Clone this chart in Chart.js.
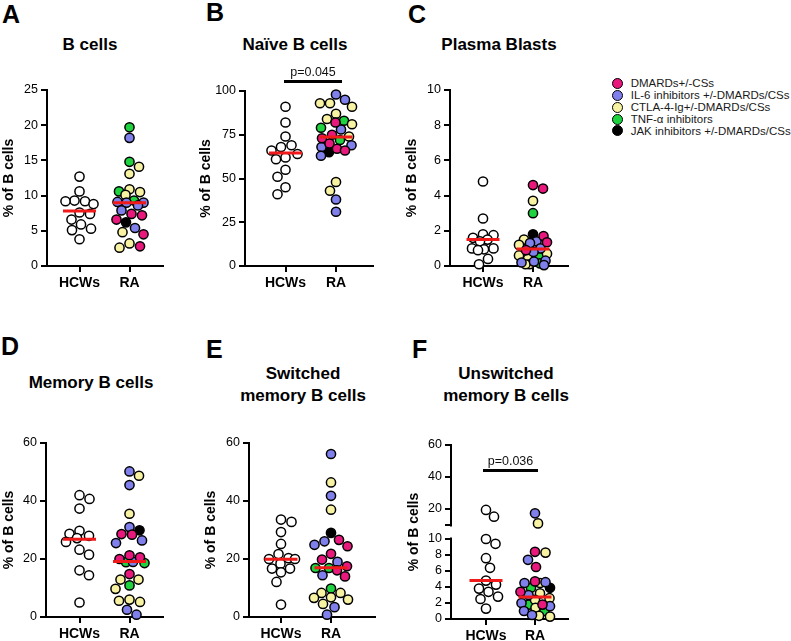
<!DOCTYPE html>
<html><head><meta charset="utf-8">
<script src="https://cdn.jsdelivr.net/npm/chart.js@4.4.1/dist/chart.umd.min.js"></script>
<style>
html,body{margin:0;padding:0;background:#fff;}
#page{position:relative;width:791px;height:641px;overflow:hidden;font-family:'Liberation Sans',Arial,sans-serif;color:#000;}
canvas{position:absolute;}
.letter{position:absolute;font-weight:bold;font-size:25px;line-height:25px;}
.ptitle{position:absolute;width:220px;text-align:center;font-weight:bold;font-size:17px;line-height:21.5px;white-space:nowrap;}
.leg{position:absolute;left:611px;height:12px;font-size:11.5px;line-height:12px;white-space:nowrap;color:#1a1a1a;}
.leg i{position:absolute;left:1px;top:0.5px;width:11px;height:11px;box-sizing:border-box;border:1.5px solid #000;border-radius:50%;}
.leg span{position:absolute;left:19.7px;top:0;}
</style></head>
<body>
<div id="page">
  <div class="letter" style="left:2px;top:2px">A</div>
  <div class="letter" style="left:206px;top:0px">B</div>
  <div class="letter" style="left:408px;top:2px">C</div>
  <div class="letter" style="left:1px;top:334px">D</div>
  <div class="letter" style="left:206px;top:337px">E</div>
  <div class="letter" style="left:412px;top:337px">F</div>
  <div class="ptitle" style="left:-20px;top:34px">B cells</div>
  <div class="ptitle" style="left:185px;top:34px">Naïve B cells</div>
  <div class="ptitle" style="left:389px;top:34px">Plasma Blasts</div>
  <div class="ptitle" style="left:-19px;top:372px">Memory B cells</div>
  <div class="ptitle" style="left:193px;top:363px">Switched<br>memory B cells</div>
  <div class="ptitle" style="left:396px;top:363px">Unswitched<br>memory B cells</div>
  <div id="legend"></div>
</div>
<script>
// ---------------- data ----------------
const CATEGORIES = ['HCWs', 'RA'];
const GROUPS = ['DMARDs+/-CSs', 'IL-6 inhibitors +/-DMARDs/CSs', 'CTLA-4-Ig+/-DMARDs/CSs', 'TNF-\u03b1 inhibitors', 'JAK inhibitors +/-DMARDs/CSs'];
const GROUP_COLORS = ['#E8187C', '#8080EC', '#F8F3A2', '#1FD23F', '#000000'];
const Y_TITLE = '% of B cells';

// treatment codes: 0 DMARDs, 1 IL-6, 2 CTLA-4-Ig, 3 TNF, 4 JAK
const A_HCW = [12.7, 10.6, 9.3, 9.2, 9.2, 8.8, 7.6, 7.4, 6.6, 5.9, 5.3, 5.1, 3.8];
const A_RA  = [19.7, 18.2, 14.8, 14.1, 13.1, 10.9, 10.6, 10.5, 10.1, 9.3, 9.1, 9.0, 9.0, 8.6, 7.9, 7.4, 7.2, 6.6, 6.2, 5.4, 4.8, 4.5, 3.2, 2.8, 2.6];
const A_TX  = [3, 1, 3, 2, 2, 2, 3, 2, 2, 3, 1, 1, 1, 1, 1, 0, 0, 0, 4, 1, 2, 0, 2, 0, 2];
const A_MED = [7.8, 9.0];
const A_YTICKS = [0, 5, 10, 15, 20, 25];

const B_HCW = [91, 82, 74, 69, 68, 66, 64, 62, 61, 55, 51, 45, 41];
const B_RA  = [98, 95, 93, 93, 91, 87, 84, 83, 82, 81, 79, 78, 75, 74, 73, 72, 70, 69, 68, 67, 66, 65, 63, 48, 43, 38, 31];
const B_TX  = [1, 1, 2, 2, 2, 2, 2, 3, 0, 2, 3, 1, 0, 2, 0, 3, 0, 1, 1, 0, 0, 4, 1, 2, 2, 1, 1];
const B_MED = [64.6, 73.7];
const B_YTICKS = [0, 25, 50, 75, 100];

const C_HCW = [4.8, 2.7, 1.8, 1.75, 1.6, 1.5, 1.4, 1.0, 1.0, 0.95, 0.9, 0.4, 0.1];
const C_RA  = [4.6, 4.4, 3.7, 3.0, 1.8, 1.7, 1.5, 1.4, 1.35, 1.3, 1.2, 1.0, 0.9, 0.8, 0.7, 0.6, 0.5, 0.4, 0.3, 0.25, 0.2, 0.15, 0.1, 0.1, 0.05];
const C_TX  = [0, 0, 2, 3, 4, 0, 2, 1, 0, 1, 2, 1, 0, 1, 2, 2, 3, 2, 1, 1, 1, 3, 2, 2, 1];
const C_MED = [1.5, 0.97];
const C_YTICKS = [0, 2, 4, 6, 8, 10];

const D_HCW = [42, 40.7, 37.4, 29.7, 28.7, 28, 27.2, 25.9, 23.2, 21.5, 16.1, 14.4, 5];
const D_RA  = [50.2, 48.7, 45.5, 35.6, 31, 29.9, 28.6, 28.4, 26.4, 25.5, 21.3, 20.6, 20, 19, 18.9, 18.6, 14.8, 12.9, 12.9, 10.9, 9.7, 6, 5.6, 5.2, 2.5, 0.8];
const D_TX  = [1, 2, 1, 2, 1, 4, 0, 0, 1, 1, 0, 0, 0, 1, 3, 3, 0, 2, 2, 3, 2, 2, 2, 2, 1, 1];
const D_MED = [26.8, 19.1];
const D_YTICKS = [0, 20, 40, 60];

const E_HCW = [33.6, 32.8, 29.3, 25.2, 21.7, 20.3, 20, 20, 18.4, 16.7, 16.7, 15.4, 12.1, 4.3];
const E_RA  = [56.2, 46.4, 41.8, 37, 29, 26.6, 26.1, 24.9, 24.4, 21.8, 19.8, 19, 17.5, 16.9, 16.9, 16.1, 14.4, 14, 9.8, 8.3, 8.3, 6.8, 6.6, 6, 4.5, 3.4, 0.8];
const E_TX  = [1, 2, 1, 2, 4, 0, 1, 1, 0, 0, 0, 1, 0, 3, 3, 0, 1, 0, 3, 2, 2, 2, 2, 2, 2, 1, 1];
const E_MED = [19.9, 17.0];
const E_YTICKS = [0, 20, 40, 60];

const F_HCW = [19.4, 15.2, 10, 9.4, 7.6, 6.4, 4.8, 4.3, 3.8, 3.4, 2.8, 2.5, 1.3];
const F_RA  = [17.3, 11, 8.4, 8.3, 7.4, 6.5, 4.7, 4.6, 4.5, 4.5, 3.9, 3.9, 3.4, 3.2, 3.0, 2.6, 2.4, 2.0, 1.8, 1.8, 1.6, 1.4, 1.0, 1.0, 0.5, 0.4, 0.3];
const F_TX  = [1, 2, 0, 2, 1, 0, 0, 1, 1, 2, 4, 3, 0, 2, 1, 2, 2, 1, 0, 3, 1, 2, 1, 3, 1, 2, 2];
const F_MED = [4.8, 2.75];
const F_YTICKS = [0, 2, 4, 6, 8, 10, 20, 40, 60];
const F_BREAK = 10;

const P_VALUES = {B: 'p=0.045', F: 'p=0.036'};

// ---------------- setup ----------------
Chart.defaults.font.family = "'Liberation Sans', Arial, sans-serif";
Chart.defaults.color = '#000';

// broken (two-segment) linear axis for panel F
class BrokenLinearScale extends Chart.LinearScale {
  _seg() {
    const H = this.bottom - this.top;
    return {H, low: H * 80 / 174, gap: H * 14 / 174};
  }
  breakPixels() {
    const {low, gap} = this._seg();
    return {lower: this.bottom - low, upper: this.bottom - low - gap};
  }
  getPixelForValue(v) {
    if (v === null || v === undefined || isNaN(v)) return NaN;
    const {H, low, gap} = this._seg();
    if (v <= F_BREAK) return this.bottom - (v - this.min) / (F_BREAK - this.min) * low;
    return this.bottom - low - gap - (v - F_BREAK) / (this.max - F_BREAK) * (H - low - gap);
  }
  getValueForPixel(p) {
    const {H, low, gap} = this._seg();
    const d = this.bottom - p;
    if (d <= low) return this.min + d / low * (F_BREAK - this.min);
    return F_BREAK + (d - low - gap) / (H - low - gap) * (this.max - F_BREAK);
  }
}
BrokenLinearScale.id = 'brokenLinear';
BrokenLinearScale.defaults = Chart.LinearScale.defaults;
Chart.register(BrokenLinearScale);

const pvalPlugin = {
  id: 'pval',
  afterDatasetsDraw(chart, args, o) {
    if (!o || !o.text) return;
    const xs = chart.scales.x, ys = chart.scales.y, ctx = chart.ctx;
    const x1 = xs.getPixelForValue(1) + o.dx1, x2 = xs.getPixelForValue(2) + o.dx2;
    const y = ys.getPixelForValue(o.y);
    ctx.save();
    ctx.strokeStyle = '#000'; ctx.lineWidth = 3;
    ctx.beginPath(); ctx.moveTo(x1, y); ctx.lineTo(x2, y); ctx.stroke();
    ctx.font = "12.5px 'Liberation Sans', Arial, sans-serif";
    ctx.fillStyle = '#111'; ctx.textAlign = 'center'; ctx.textBaseline = 'middle';
    ctx.fillText(o.text, (x1 + x2) / 2, y - o.gap);
    ctx.restore();
  }
};
const breakPlugin = {
  id: 'axisBreak',
  beforeDatasetsDraw(chart) {
    const ys = chart.scales.y;
    if (!ys.breakPixels) return;
    const {upper, lower} = ys.breakPixels();
    const ctx = chart.ctx, x = chart.chartArea.left;
    ctx.save();
    ctx.fillStyle = '#fff';
    ctx.fillRect(x - 3, upper + 1.5, 6, lower - upper - 3);
    ctx.strokeStyle = '#000'; ctx.lineWidth = 2;
    ctx.beginPath(); ctx.moveTo(x - 6, upper); ctx.lineTo(x + 1, upper); ctx.stroke();
    ctx.restore();
  }
};

const PANELS = [
  {hcw: A_HCW, ra: A_RA, tx: A_TX, med: A_MED, yTicks: A_YTICKS, box: {cl: 1, L: 47, T: 90, R: 163, B: 266, hcX: 79.5, raX: 129.5}, spread: [14, 14]},
  {hcw: B_HCW, ra: B_RA, tx: B_TX, med: B_MED, yTicks: B_YTICKS, box: {cl: 198, L: 245, T: 91, R: 373, B: 266, hcX: 285.5, raX: 336}, padTop: 31, spread: [14, 16],
   pval: {text: P_VALUES.B, y: 105.5, dx1: -1.5, dx2: 6, gap: 9}},
  {hcw: C_HCW, ra: C_RA, tx: C_TX, med: C_MED, yTicks: C_YTICKS, box: {cl: 404, L: 450, T: 90, R: 568, B: 266, hcX: 483, raX: 533}, spread: [15, 14]},
  {hcw: D_HCW, ra: D_RA, tx: D_TX, med: D_MED, yTicks: D_YTICKS, box: {cl: 1, L: 46, T: 443, R: 163, B: 617, hcX: 79.5, raX: 129.5}, spread: [14, 15]},
  {hcw: E_HCW, ra: E_RA, tx: E_TX, med: E_MED, yTicks: E_YTICKS, box: {cl: 203, L: 249, T: 443, R: 375, B: 617, hcX: 281, raX: 331}, spread: [14, 17]},
  {hcw: F_HCW, ra: F_RA, tx: F_TX, med: F_MED, yTicks: F_YTICKS, box: {cl: 406, L: 451, T: 445, R: 568, B: 619, hcX: 486, raX: 535}, broken: true, spread: [14, 15],
   pval: {text: P_VALUES.F, y: 44, dx1: -3, dx2: 3, gap: 8.7}}
];

const page = document.getElementById('page');
const POINT = {pointRadius: 4.6, pointBorderWidth: 1.5, pointBorderColor: '#000', pointHoverRadius: 4.6, clip: false, order: 2};

// beeswarm: horizontal offsets computed from pixel positions, capped in width
function swarm(chart, spread) {
  const xs = chart.scales.x, ys = chart.scales.y;
  const unitPx = xs.getPixelForValue(2) - xs.getPixelForValue(1);
  const ds = chart.data.datasets;
  [[0], [1, 2, 3, 4, 5]].forEach((idxs, ci) => {
    const pts = [];
    idxs.forEach(d => ds[d].data.forEach(pt => pts.push({pt, py: ys.getPixelForValue(pt.y)})));
    pts.sort((a, b) => a.py - b.py);
    const D = 10.4, cap = spread[ci];
    const placed = [];
    pts.forEach((p, k) => {
      let bestFree = null, bestAny = null, bestAnyD = -1;
      const sgn = k % 2 ? 1 : -1;
      for (let s = 0; s <= cap * 2; s += 1) {
        const mag = s / 2;
        for (const c of (mag === 0 ? [0] : [sgn * mag, -sgn * mag])) {
          let md = Infinity;
          placed.forEach(q => { const d = Math.hypot(q.dx - c, q.py - p.py); if (d < md) md = d; });
          if (md >= D) { bestFree = c; break; }
          if (md > bestAnyD + 0.3) { bestAnyD = md; bestAny = c; }
        }
        if (bestFree !== null) break;
      }
      p.dx = bestFree !== null ? bestFree : bestAny;
      placed.push(p);
    });
    pts.forEach(p => { p.pt.x = (ci + 1) + p.dx / unitPx; });
  });
  ds.forEach(d => {
    if (d.medianOf) {
      d.data[0].x = d.medianOf - 16.5 / unitPx;
      d.data[1].x = d.medianOf + 16.5 / unitPx;
    }
  });
  chart.update('none');
}

function makePanel(p) {
  const b = p.box;
  const padTop = p.padTop || 20, padR = 10, xH = 30;
  const ct = b.T - padTop, cl = b.cl;
  const W = b.R + padR - cl, H = b.B + xH - ct;
  const cv = document.createElement('canvas');
  cv.width = W; cv.height = H;
  cv.style.left = cl + 'px'; cv.style.top = ct + 'px';
  cv.style.width = W + 'px'; cv.style.height = H + 'px';
  page.appendChild(cv);
  const unit = b.raX - b.hcX;
  const xmin = 1 - (b.hcX - b.L) / unit, xmax = 2 + (b.R - b.raX) / unit;
  const yW = b.L - cl;

  const datasets = [];
  datasets.push(Object.assign({label: CATEGORIES[0], data: p.hcw.map(v => ({x: 1, y: v})), backgroundColor: '#ffffff'}, POINT));
  GROUPS.forEach((g, gi) => {
    const data = [];
    p.ra.forEach((v, i) => { if (p.tx[i] === gi) data.push({x: 2, y: v}); });
    datasets.push(Object.assign({label: g, data, backgroundColor: GROUP_COLORS[gi]}, POINT));
  });
  p.med.forEach((m, ci) => datasets.push({
    type: 'line', label: 'median ' + CATEGORIES[ci], medianOf: ci + 1,
    data: [{x: ci + 1 - 0.3, y: m}, {x: ci + 1 + 0.3, y: m}],
    borderColor: '#F01A1A', borderWidth: 3, pointRadius: 0, order: 0, clip: false, fill: false
  }));

  const grid = {drawOnChartArea: false, drawTicks: true, tickLength: 6, color: '#000', lineWidth: 2};
  const border = {color: '#000', width: 2};
  const chart = new Chart(cv, {
    type: 'scatter',
    data: {datasets},
    plugins: [pvalPlugin, breakPlugin],
    options: {
      responsive: false, animation: false, devicePixelRatio: 1, events: [],
      layout: {padding: {left: 0, right: padR, top: padTop, bottom: 0}},
      plugins: {legend: {display: false}, tooltip: {enabled: false}, pval: p.pval || {text: ''}},
      scales: {
        x: {
          type: 'linear', min: xmin, max: xmax,
          afterBuildTicks: s => { s.ticks = [{value: 1}, {value: 2}]; },
          afterFit: s => { s.height = xH; },
          ticks: {callback: v => CATEGORIES[v - 1] || '', font: {weight: 'bold', size: 14}, color: '#000', padding: 3, maxRotation: 0, autoSkip: false},
          grid, border
        },
        y: {
          type: p.broken ? 'brokenLinear' : 'linear',
          min: p.yTicks[0], max: p.yTicks[p.yTicks.length - 1],
          afterBuildTicks: s => { s.ticks = p.yTicks.map(value => ({value})); },
          afterFit: s => { s.width = yW; },
          ticks: {font: {size: 12.5}, color: '#000', padding: 3, autoSkip: false},
          grid, border,
          title: {display: true, text: Y_TITLE, font: {weight: 'bold', size: 14}, color: '#000', padding: {top: 0, bottom: 0}}
        }
      }
    }
  });
  swarm(chart, p.spread);
}
PANELS.forEach(makePanel);

// legend
const leg = document.getElementById('legend');
GROUPS.forEach((g, gi) => {
  const row = document.createElement('div');
  row.className = 'leg';
  row.style.top = (83.3 + gi * 11.9 - 6) + 'px';
  const dot = document.createElement('i');
  dot.style.background = GROUP_COLORS[gi];
  const t = document.createElement('span');
  t.textContent = g;
  row.appendChild(dot); row.appendChild(t);
  leg.appendChild(row);
});
</script>
</body></html>
